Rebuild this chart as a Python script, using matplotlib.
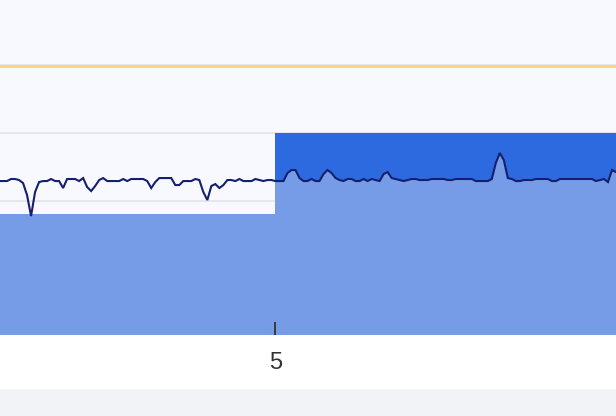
import numpy as np
import matplotlib
matplotlib.use("Agg")
import matplotlib.pyplot as plt
from matplotlib.patches import Rectangle

# data
t_start, t_step = 1.55, 0.05
series = [
    22.94, 22.94, 22.94, 23.24, 23.24, 23.09, 22.65, 20.88, 17.79, 21.32,
    22.79, 22.94, 22.94, 23.24, 22.94, 22.94, 21.91, 23.24, 23.24, 23.24,
    22.94, 23.38, 22.06, 21.47, 22.21, 23.09, 23.38, 22.94, 22.94, 22.94,
    22.94, 23.24, 22.94, 23.24, 23.24, 23.24, 23.24, 22.94, 21.91, 22.79,
    23.38, 23.38, 23.38, 23.38, 22.35, 22.35, 22.94, 22.94, 22.94, 23.24,
    23.09, 21.32, 20.15, 22.21, 22.50, 21.91, 22.35, 23.09, 23.09, 22.94,
    23.24, 22.94, 22.94, 22.94, 23.24, 23.09, 22.94, 23.09, 23.09, 22.94,
    22.94, 22.94, 24.12, 24.56, 24.56, 23.38, 22.94, 22.94, 23.24, 22.94,
    22.94, 23.97, 24.56, 24.12, 23.38, 23.09, 22.94, 23.24, 23.24, 22.94,
    22.94, 23.24, 22.94, 23.24, 23.09, 22.94, 23.97, 24.26, 23.38, 23.24,
    23.09, 22.94, 23.09, 23.24, 23.24, 23.09, 23.09, 23.09, 23.24, 23.24,
    23.24, 23.24, 23.09, 23.09, 23.24, 23.24, 23.24, 23.24, 23.24, 22.94,
    22.94, 22.94, 22.94, 23.24, 25.59, 27.06, 26.03, 23.38, 23.24, 22.94,
    22.94, 23.09, 23.09, 23.09, 23.24, 23.24, 23.24, 23.24, 22.94, 22.94,
    23.24, 23.24, 23.24, 23.24, 23.24, 23.24, 23.24, 23.24, 23.24, 22.94,
    23.09, 23.24, 22.79, 24.56, 24.26,
]
bar_starts = [0, 5]
bar_values = [18.1, 30.0]
grid_values = [10, 20, 30, 40]
threshold = 39.8
tick_positions = [5]
tick_labels = ["5"]

t = np.round(t_start + t_step * np.arange(len(series)), 3)
y = np.array(series)
y0 = 0.3  # bottom of the visible window

fig = plt.figure(figsize=(6.16, 4.16), dpi=100, facecolor="#f2f3f7")
fig.patches.append(Rectangle((0, 27 / 416), 1, 54 / 416, transform=fig.transFigure,
                             facecolor="white", edgecolor="none", zorder=-5))
ax = fig.add_axes([0, 81 / 416, 1, 335 / 416])
ax.set_facecolor("#f8f9fe")

ax.set_xlim(1.5625, 9.25)
ax.set_ylim(y0, y0 + 335 / 6.8)

# grid, kept under the bars
ax.hlines(grid_values, 0, 10, color="#e2e4ea", lw=1.2, zorder=0.5)
ax.tick_params(axis="y", left=False, labelleft=False)

# bars
ax.bar(bar_starts[0], bar_values[0] - y0, bottom=y0, width=5, align="edge",
       color="#769ce8", lw=0, antialiased=False, zorder=1)
right_bar = ax.bar(bar_starts[1], bar_values[1] - y0, bottom=y0, width=5, align="edge",
                   color="#2d6ae0", lw=0, antialiased=False, zorder=1)

# area under the line, only inside the right bar
area = ax.fill_between(t, y0, y, color="#769ce8", lw=0, antialiased=False, zorder=2)
area.set_clip_path(right_bar[0])

ax.axhline(threshold, color="#ffd27a", lw=2.0, zorder=3)
ax.plot(t, y, color="#14206e", lw=1.5, solid_joinstyle="miter", zorder=4)

for s in ax.spines.values():
    s.set_visible(False)

ax.set_xticks(tick_positions)
ax.set_xticklabels(tick_labels, fontsize=17, color="#333333", family="Liberation Sans")
ax.tick_params(axis="x", direction="in", length=9.5, width=1.3, color="#333333", pad=12)
ax.xaxis.set_zorder(5)

plt.savefig("out.png", dpi=100, facecolor=fig.get_facecolor())
